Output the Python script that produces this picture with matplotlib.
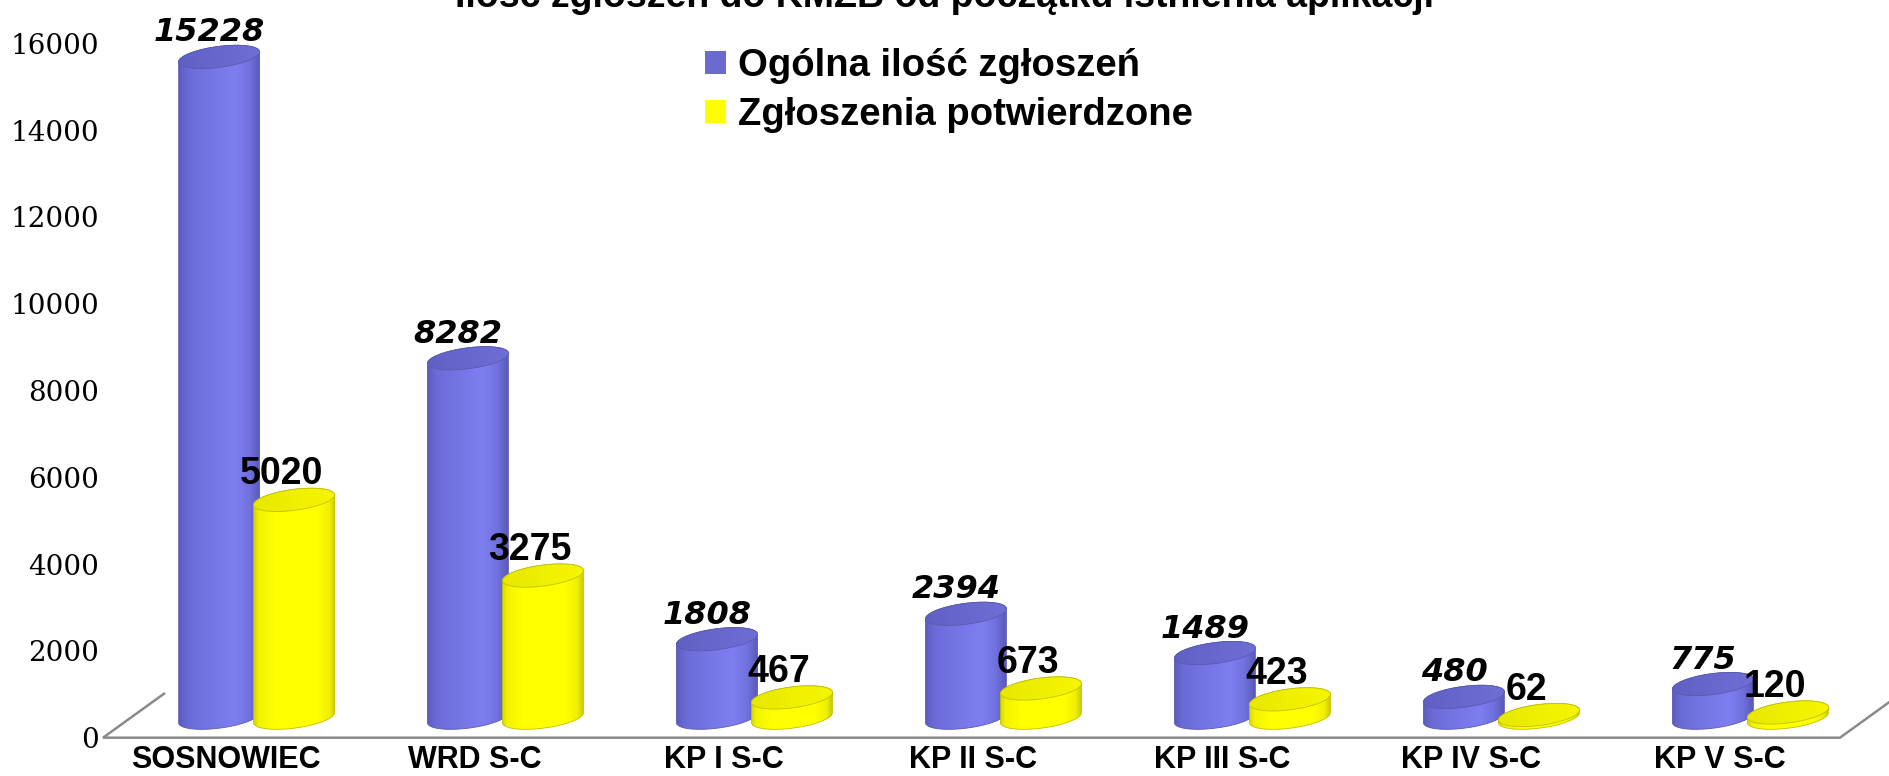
import numpy as np
import matplotlib
matplotlib.use('Agg')
import matplotlib.pyplot as plt
from matplotlib.patches import Polygon, Patch
from matplotlib.colors import LinearSegmentedColormap

# dane
kategorie = ['SOSNOWIEC', 'WRD S-C', 'KP I S-C', 'KP II S-C', 'KP III S-C', 'KP IV S-C', 'KP V S-C']
ogolne = [15228, 8282, 1808, 2394, 1489, 480, 775]
potwierdzone = [5020, 3275, 467, 673, 423, 62, 120]
serie = ['Ogólna ilość zgłoszeń', 'Zgłoszenia potwierdzone']
tytul = 'Ilość zgłoszeń do KMZB od początku istnienia aplikacji'
y_ticks = np.arange(0, 16001, 2000)

# wyglad walcow (w pikselach)
szer_walca = 81
wys_elipsy = 21
przechyl = 10
podstawa = 20
przes_nieb = -7
przes_zolt = 68

niebieski_grad = LinearSegmentedColormap.from_list('nb', [
    (0.0, '#5c5cbe'), (0.12, '#6c6cd8'), (0.5, '#7878ea'), (0.7, '#7e7ef1'),
    (0.88, '#7070de'), (1.0, '#5a5aba')])
niebieski_gora = LinearSegmentedColormap.from_list('nbg', ['#6060c4', '#6e6ed6'])
zolty_grad = LinearSegmentedColormap.from_list('zt', [
    (0.0, '#d4d400'), (0.06, '#f2f200'), (0.25, '#ffff00'), (0.8, '#ffff00'),
    (0.94, '#eeee00'), (1.0, '#cccc00')])
zolty_gora = LinearSegmentedColormap.from_list('ztg', ['#e8e800', '#f6f600'])

fig = plt.figure(figsize=(18.9, 7.76), dpi=100)
ax = fig.add_axes([105 / 1890, 0.04936, 1 - 105 / 1890, 0.9441 - 0.04936])
ax.set_xlim(-0.486, 6.683)
ax.set_ylim(0, 16000)

px_x = ax.transData.transform((1, 0))[0] - ax.transData.transform((0, 0))[0]
px_y = (ax.transData.transform((0, 1000))[1] - ax.transData.transform((0, 0))[1]) / 1000


def dx(p):
    return p / px_x


def dy(p):
    return p / px_y


def elipsa(xc, yc, t):
    hw = dx(szer_walca / 2)
    bh = dy(wys_elipsy / 2)
    tl = dy(przechyl / 2)
    return np.column_stack([xc + hw * np.cos(t), yc + bh * np.sin(t) + tl * np.cos(t)])


def walec(xc, wartosc, cmap, cmap_gora, kraw, z):
    y0 = dy(podstawa)
    y1 = y0 + wartosc
    hw = dx(szer_walca / 2)
    dol = elipsa(xc, y0, np.linspace(np.pi, 2 * np.pi, 60))
    gora = elipsa(xc, y1, np.linspace(0, np.pi, 60))
    obrys = Polygon(np.vstack([dol, gora]), closed=True, transform=ax.transData,
                    facecolor='none', edgecolor=kraw, lw=0.6, zorder=z + 0.05)
    ext = [xc - hw, xc + hw, y0 - dy(wys_elipsy), y1 + dy(wys_elipsy)]
    im = ax.imshow(np.linspace(0, 1, 128).reshape(1, -1), cmap=cmap, extent=ext,
                   aspect='auto', interpolation='bilinear', zorder=z)
    im.set_clip_path(obrys)
    ax.add_patch(obrys)
    top = Polygon(elipsa(xc, y1, np.linspace(0, 2 * np.pi, 100)), closed=True,
                  transform=ax.transData, facecolor='none', edgecolor=kraw, lw=0.6,
                  zorder=z + 0.15)
    im2 = ax.imshow(np.linspace(0, 1, 64).reshape(1, -1), cmap=cmap_gora, extent=ext,
                    aspect='auto', interpolation='bilinear', zorder=z + 0.1)
    im2.set_clip_path(top)
    ax.add_patch(top)
    return y1 + dy(wys_elipsy / 2)


# podloga
fl_l, fl_r = dx(103 - 226), 6 + dx(1840 - 1720)
glab_x, glab_y = dx(61), dy(44)
ax.plot([fl_l + glab_x, fl_l, fl_r, fl_r + glab_x], [glab_y, 0, 0, glab_y],
        color='#8a8a8a', lw=1.8, clip_on=False, zorder=1, solid_joinstyle='miter')

z = 2
for i in range(len(kategorie)):
    xb = i + dx(przes_nieb)
    xy = i + dx(przes_zolt)
    t1 = walec(xb, ogolne[i], niebieski_grad, niebieski_gora, '#5a5ab0', z)
    t2 = walec(xy, potwierdzone[i], zolty_grad, zolty_gora, '#c0c000', z + 1)
    ax.text(xb - dx(10), t1 + dy(5), str(ogolne[i]), ha='center', va='baseline',
            fontsize=23, fontweight='bold', fontstyle='italic', family='DejaVu Sans',
            zorder=50)
    ax.text(xy - dx(13), t2 + dy(5), str(potwierdzone[i]), ha='center', va='baseline',
            fontsize=27, fontweight='bold', family='Liberation Sans', zorder=50)
    z += 2

ax.set_xlim(-0.486, 6.683)
ax.set_ylim(0, 16000)
ax.set_yticks(y_ticks)
ax.set_yticklabels([str(v) for v in y_ticks], family='DejaVu Serif', fontsize=20)
ax.set_xticks(range(len(kategorie)))
ax.set_xticklabels(kategorie, fontsize=22, fontweight='bold', family='Liberation Sans')
ax.tick_params(axis='y', length=0, pad=4.3)
ax.tick_params(axis='x', length=0, pad=5)
for s in ax.spines.values():
    s.set_visible(False)

uchwyty = [Patch(facecolor='#6b6bcf', edgecolor='none'), Patch(facecolor='#ffff00', edgecolor='none')]
ax.legend(uchwyty, serie, loc='upper left', bbox_to_anchor=(705 / 1890, 1 - 48 / 776),
          bbox_transform=fig.transFigure, frameon=False, borderpad=0, borderaxespad=0,
          handlelength=0.55, handleheight=0.55, handletextpad=0.32, labelspacing=0.35,
          prop={'family': 'Liberation Sans', 'weight': 'bold', 'size': 27.5})

fig.text(0.4997, 1 - 7 / 776, tytul, ha='center', va='baseline', fontsize=27,
         fontweight='bold', family='Liberation Sans')

plt.savefig('out.png', dpi=100)
